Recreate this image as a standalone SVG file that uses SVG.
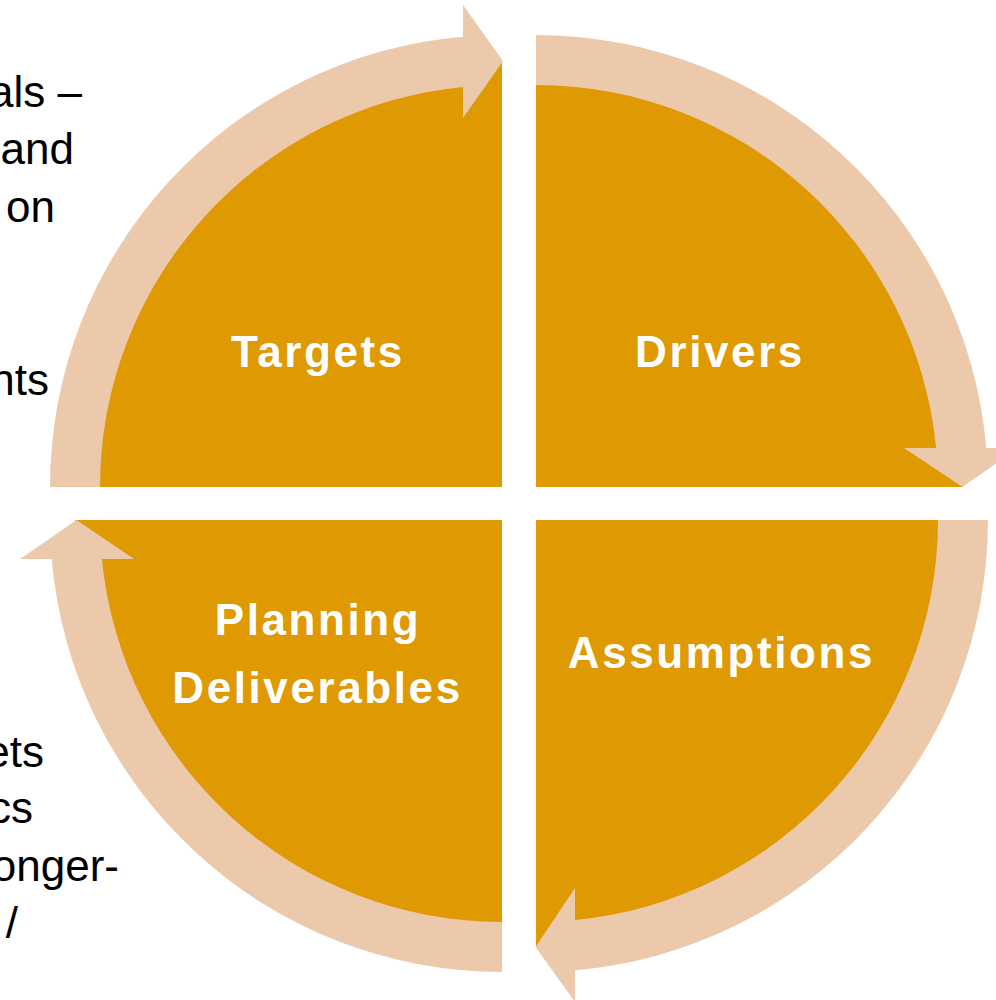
<svg xmlns="http://www.w3.org/2000/svg" width="996" height="1000" viewBox="0 0 996 1000">
  <style>
    .quad { fill: #DE9903; }
    .arrow { fill: #ECC9AB; }
    .label { font-family: "Liberation Sans", Arial, sans-serif; font-weight: bold; font-size: 44px; fill: #FFFFFF; letter-spacing: 2.6px; text-anchor: middle; }
    .side { font-family: "Liberation Sans", Arial, sans-serif; font-size: 44px; fill: #000000; text-anchor: end; }
  </style>
  <rect width="996" height="1000" fill="#FFFFFF"/>

  <!-- side text, running off the left edge -->
  <g id="side-text">
    <text class="side" x="82" y="107">als –</text>
    <text class="side" x="74" y="164">and</text>
    <text class="side" x="55" y="222">on</text>
    <text class="side" x="49" y="395">nts</text>
    <text class="side" x="44" y="767">ets</text>
    <text class="side" x="33" y="823">cs</text>
    <text class="side" x="119" y="881">onger-</text>
    <text class="side" x="18" y="938">/</text>
  </g>

  <!-- four quarter-circle segments -->
  <g id="targets">
    <path class="quad" d="M502 487 L75 487 A427 427 0 0 1 502 60 Z"/>
  </g>
  <g id="drivers">
    <path class="quad" d="M536 487 L536 60 A427 427 0 0 1 963 487 Z"/>
  </g>
  <g id="assumptions">
    <path class="quad" d="M536 520 L963 520 A427 427 0 0 1 536 947 Z"/>
  </g>
  <g id="planning-deliverables">
    <path class="quad" d="M502 520 L502 947 A427 427 0 0 1 75 520 Z"/>
  </g>

  <!-- clockwise curved arrows around the circle -->
  <g id="connectors">
    <path class="arrow" d="M50 487 A452 452 0 0 1 463 36.7 L463 5 L503 61 L463 118 L463 86.9 A402 402 0 0 0 100 487 Z"/>
    <path class="arrow" d="M536 35 A452 452 0 0 1 986.3 448 L1018 448 L962.5 487 L904 448 L936.1 448 A402 402 0 0 0 536 85 Z"/>
    <path class="arrow" d="M988 520 A452 452 0 0 1 575 970.3 L575 1002 L535.5 947 L575 888 L575 920.1 A402 402 0 0 0 938 520 Z"/>
    <path class="arrow" d="M502 972 A452 452 0 0 1 51.7 559 L20 559 L76.5 520 L134 559 L101.9 559 A402 402 0 0 0 502 922 Z"/>
  </g>

  <!-- segment labels -->
  <g id="labels">
    <text class="label" x="318" y="367">Targets</text>
    <text class="label" x="720" y="367">Drivers</text>
    <text class="label" x="721.5" y="668">Assumptions</text>
    <text class="label" x="318" y="635">Planning</text>
    <text class="label" x="317.5" y="703">Deliverables</text>
  </g>
</svg>
